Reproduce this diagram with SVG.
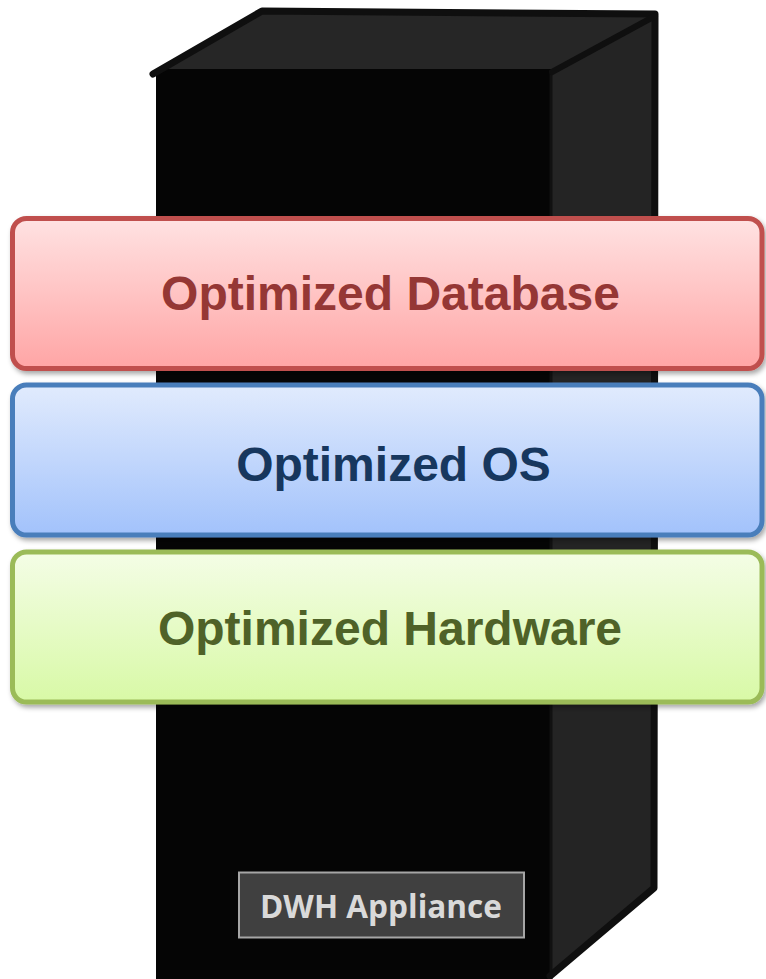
<svg xmlns="http://www.w3.org/2000/svg" width="766" height="979" viewBox="0 0 766 979">
  <defs>
    <linearGradient id="gradRed" x1="0" y1="0" x2="0" y2="1">
      <stop offset="0" stop-color="#ffe2e2"/>
      <stop offset="1" stop-color="#ffa5a5"/>
    </linearGradient>
    <linearGradient id="gradBlue" x1="0" y1="0" x2="0" y2="1">
      <stop offset="0" stop-color="#e1ebfd"/>
      <stop offset="1" stop-color="#a2c2fb"/>
    </linearGradient>
    <linearGradient id="gradGreen" x1="0" y1="0" x2="0" y2="1">
      <stop offset="0" stop-color="#f4fde6"/>
      <stop offset="1" stop-color="#d8f9a6"/>
    </linearGradient>
    <filter id="shadow" x="-5%" y="-10%" width="110%" height="125%">
      <feDropShadow dx="2" dy="3" stdDeviation="2.5" flood-color="#000" flood-opacity="0.35"/>
    </filter>
  </defs>
  <style>
    .band { stroke-width: 5; filter: url(#shadow); }
    .label { font-family: "Liberation Sans", Arial, sans-serif; font-weight: bold; font-size: 48px; text-anchor: middle; }
    .edge { fill: none; stroke: #0f0f0f; stroke-linecap: round; stroke-linejoin: round; }
  </style>

  <rect width="766" height="979" fill="#ffffff"/>

  <!-- appliance cabinet -->
  <g id="cabinet">
    <polygon points="552,70 655,14 654,888 550,979" fill="#242424"/>
    <polygon points="155,73 262,11 655,14 552,70" fill="#262626"/>
    <rect x="156" y="69" width="396" height="910" fill="#050505"/>
    <line x1="551" y1="72" x2="551" y2="979" stroke="#111111" stroke-width="3"/>
    <path class="edge" stroke-width="7" d="M153,74 L262,11 L655,14 L654,888 L550,976"/>
    <path class="edge" stroke-width="6" d="M655,16 L552,72"/>
  </g>

  <!-- software / hardware layers -->
  <g id="layer-database">
    <rect class="band" x="12.5" y="218.5" width="749.5" height="150" rx="14" fill="url(#gradRed)" stroke="#c0504d"/>
    <text class="label" x="390.5" y="310" fill="#953735">Optimized Database</text>
  </g>

  <g id="layer-os">
    <rect class="band" x="12.5" y="385" width="749.5" height="150" rx="14" fill="url(#gradBlue)" stroke="#4a7ebb"/>
    <text class="label" x="393.5" y="481" fill="#17375e">Optimized OS</text>
  </g>

  <g id="layer-hardware">
    <rect class="band" x="12.5" y="552" width="749.5" height="150" rx="14" fill="url(#gradGreen)" stroke="#9bbb59"/>
    <text class="label" x="390" y="645" fill="#4f6228">Optimized Hardware</text>
  </g>

  <!-- nameplate -->
  <g id="nameplate">
    <rect x="239" y="872.5" width="285" height="65" fill="#404040" stroke="#a6a6a6" stroke-width="2"/>
    <text x="381" y="918" font-family="'Open Sans', 'DejaVu Sans', sans-serif" font-weight="bold" font-size="32" fill="#d9d9d9" text-anchor="middle" textLength="242" lengthAdjust="spacingAndGlyphs">DWH Appliance</text>
  </g>
</svg>
